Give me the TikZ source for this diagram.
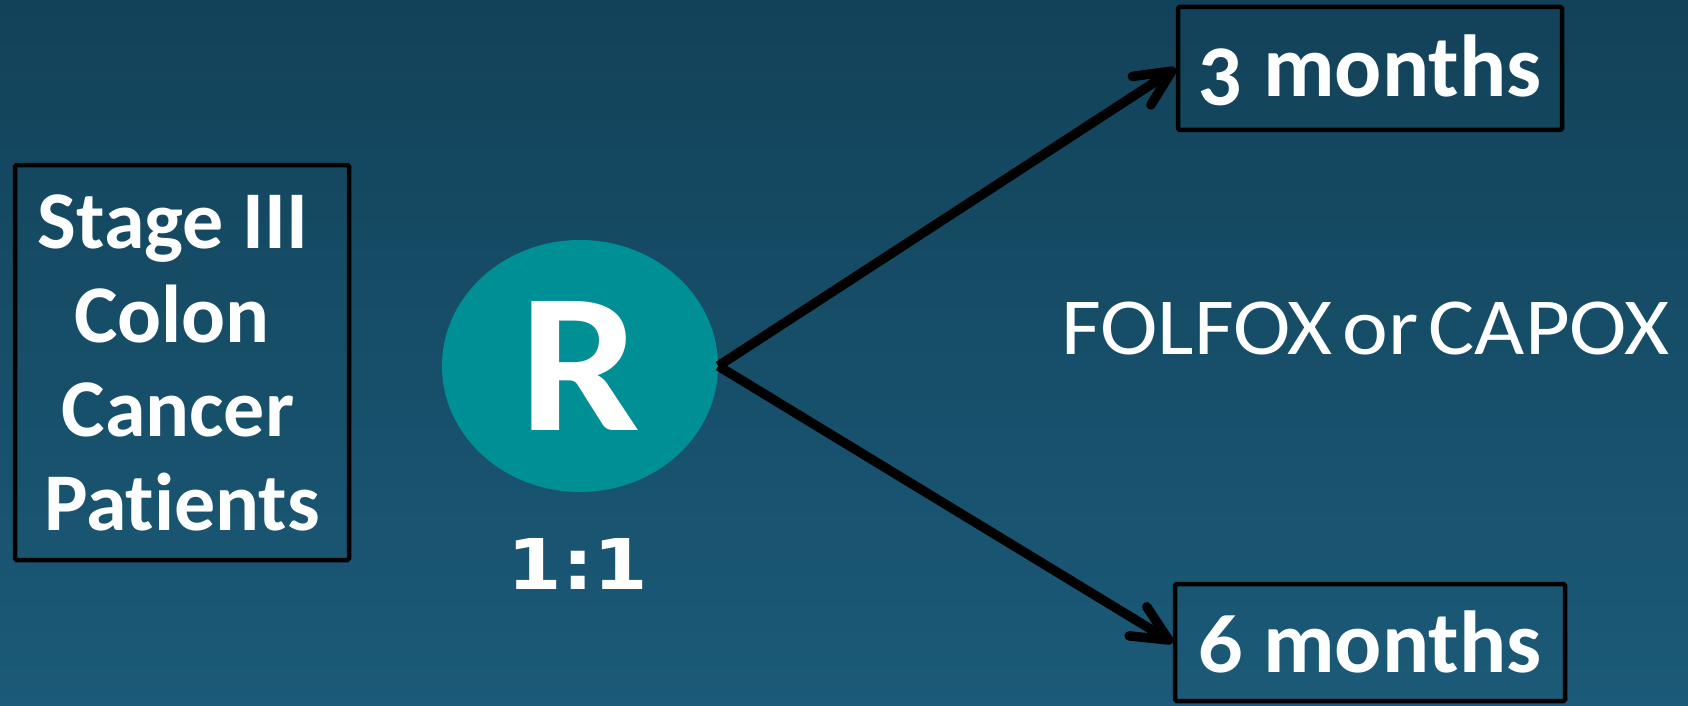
\documentclass[tikz,border=0pt]{standalone}
\usepackage{fontspec}
\setmainfont{Carlito}[Ligatures=NoCommon]
\newfontfamily\onumfont{Carlito}[Numbers=OldStyle,Ligatures=NoCommon]
\newfontfamily\ratiofont{DejaVu Sans}
\usetikzlibrary{arrows.meta,shapes.geometric}
\definecolor{bgtop}{HTML}{124259}
\definecolor{bgbot}{HTML}{1B5A78}
\definecolor{rteal}{HTML}{008F95}
\newcommand{\wide}[2]{\scalebox{#1}[1]{#2}}
\begin{document}
\begin{tikzpicture}[x=1pt,y=-1pt,
  frame/.style={draw=black, line width=4.5pt, rounded corners=1.5pt, inner sep=0pt, text=white},
  link/.style={line width=9.5pt, -{Straight Barb[length=36pt,width=34pt,round]}},
  armtext/.style={font=\fontsize{88}{88}\selectfont\bfseries\onumfont}
]
% background
\shade[top color=bgtop,bottom color=bgbot] (0,0) rectangle (1688,706);
\useasboundingbox (0,0) rectangle (1688,706);

% patient population
\node[frame, minimum width=334pt, minimum height=395pt, align=center,
      font=\fontsize{82}{94}\selectfont\bfseries] (pts) at (182,362.5)
  {Stage III\kern18pt\\Colon\kern20pt\\Cancer\kern8pt\\Patients};

% randomisation
\node[ellipse, fill=rteal, minimum width=276pt, minimum height=252pt, inner sep=0pt,
      text=white, font=\fontsize{199}{199}\selectfont\bfseries] (R) at (580,366) {\wide{1.08}{R}};
\node[text=white, inner sep=0pt, font=\fontsize{70}{70}\selectfont\ratiofont\bfseries] (ratio) at (578,564) {\wide{1.12}{1:1}};

% arms
\node[frame, armtext, minimum width=384pt, minimum height=123pt, text height=60pt, text depth=3pt] (three) at (1370,68.5) {3 months};
\node[frame, armtext, minimum width=390pt, minimum height=117pt, text height=62pt, text depth=3pt] (six) at (1370,642.5) {6 months};

\node[text=white, inner sep=0pt, anchor=base west, font=\fontsize{81}{81}\selectfont] (regimen) at (1061,354)
  {\wide{1.07}{FOLFOX}\kern10pt\wide{1.07}{or}\kern10pt\wide{1.07}{CAPOX}};

\draw[link] (R.east) -- (three.west);
\draw[link] (R.east) -- (six.west);
\end{tikzpicture}
\end{document}
